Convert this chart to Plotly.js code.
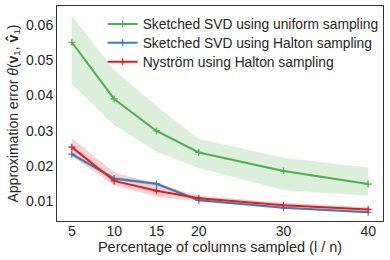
<!DOCTYPE html>
<html><head><meta charset="utf-8">
<script src="https://cdn.plot.ly/plotly-3.0.1.min.js"></script>
<style>html,body{margin:0;padding:0;background:#fff}#chart{width:390px;height:260px}</style>
</head><body><div id="chart"></div>
<script>
const xPct = [5, 10, 15, 20, 30, 40];
const xTickLabels = ['5', '10', '15', '20', '30', '40'];
const uniformMean = [0.0551, 0.0390, 0.0299, 0.0238, 0.0185, 0.0148];
const uniformLow  = [0.0432, 0.0316, 0.0240, 0.0193, 0.0131, 0.0115];
const uniformHigh = [0.0626, 0.0472, 0.0370, 0.0276, 0.0223, 0.0195];
const haltonSvdMean = [0.0233, 0.0164, 0.0149, 0.0102, 0.0081, 0.0068];
const haltonSvdLow  = [0.0228, 0.0159, 0.0143, 0.0099, 0.0078, 0.0065];
const haltonSvdHigh = [0.0238, 0.0169, 0.0155, 0.0105, 0.0084, 0.0071];
const nystromMean = [0.0253, 0.0157, 0.0129, 0.0108, 0.0088, 0.0076];
const nystromLow  = [0.0228, 0.0145, 0.0113, 0.0100, 0.0082, 0.0070];
const nystromHigh = [0.0278, 0.0182, 0.0148, 0.0115, 0.0095, 0.0082];
const names = ['Sketched SVD using uniform sampling', 'Sketched SVD using Halton sampling', 'Nyström using Halton sampling'];

const cGreen = '#4daf4a', cBlue = '#377eb8', cRed = '#e41a1c';
function band(lo, hi, fillc) {
  return [
    {x: xPct, y: lo, mode: 'lines', line: {width: 0, color: fillc}, showlegend: false, hoverinfo: 'skip'},
    {x: xPct, y: hi, mode: 'lines', line: {width: 0, color: fillc}, fill: 'tonexty', fillcolor: fillc, showlegend: false, hoverinfo: 'skip'}
  ];
}
function line(y, c, n, lg) {
  return {x: xPct, y: y, name: n, legend: lg, mode: 'lines+markers', line: {color: c, width: 2},
    marker: {symbol: 'cross-thin', size: 5, color: c, line: {color: c, width: 1.2}}};
}
const data = [
  ...band(uniformLow, uniformHigh, 'rgba(77,175,74,0.2)'),
  ...band(haltonSvdLow, haltonSvdHigh, 'rgba(55,126,184,0.2)'),
  ...band(nystromLow, nystromHigh, 'rgba(228,26,28,0.2)'),
  line(uniformMean, cGreen, names[0], 'legend'),
  line(haltonSvdMean, cBlue, names[1], 'legend2'),
  line(nystromMean, cRed, names[2], 'legend3')
];
const font = {family: 'Liberation Sans, Arial, sans-serif', color: '#262626'};
function lg(y) {
  return {x: 0.14, y: y, xanchor: 'left', yanchor: 'middle', bgcolor: 'rgba(0,0,0,0)',
    font: Object.assign({size: 13.8}, font), itemwidth: 30};
}
const layout = {
  width: 390, height: 260,
  margin: {l: 57, r: 7, t: 6, b: 39},
  paper_bgcolor: '#fff', plot_bgcolor: '#fff',
  font: Object.assign({size: 13}, font),
  showlegend: true,
  legend: lg(0.916), legend2: lg(0.829), legend3: lg(0.741),
  xaxis: {range: [3.25, 41.75], tickvals: xPct, ticktext: xTickLabels, showgrid: false, zeroline: false,
    showline: true, mirror: true, linecolor: '#333', linewidth: 1, ticks: '', ticklen: 0, ticklabelstandoff: -3,
    tickfont: Object.assign({size: 14}, font),
    title: {text: 'Percentage of columns sampled (l / n)', font: Object.assign({size: 14.5}, font), standoff: 2}},
  yaxis: {range: [0.00432, 0.0654], tickvals: [0.01, 0.02, 0.03, 0.04, 0.05, 0.06],
    ticktext: ['0.01', '0.02', '0.03', '0.04', '0.05', '0.06'], showgrid: false, zeroline: false,
    showline: true, mirror: true, linecolor: '#333', linewidth: 1, ticks: '', ticklen: 0,
    tickfont: Object.assign({size: 14}, font),
    title: {text: 'Approximation error <i>θ</i>(<b>v</b><sub>1</sub>, <b>v̂</b><sub>1</sub>)', font: Object.assign({size: 14}, font), standoff: 4}}
};
Plotly.newPlot('chart', data, layout, {displayModeBar: false, staticPlot: true});
</script></body></html>
